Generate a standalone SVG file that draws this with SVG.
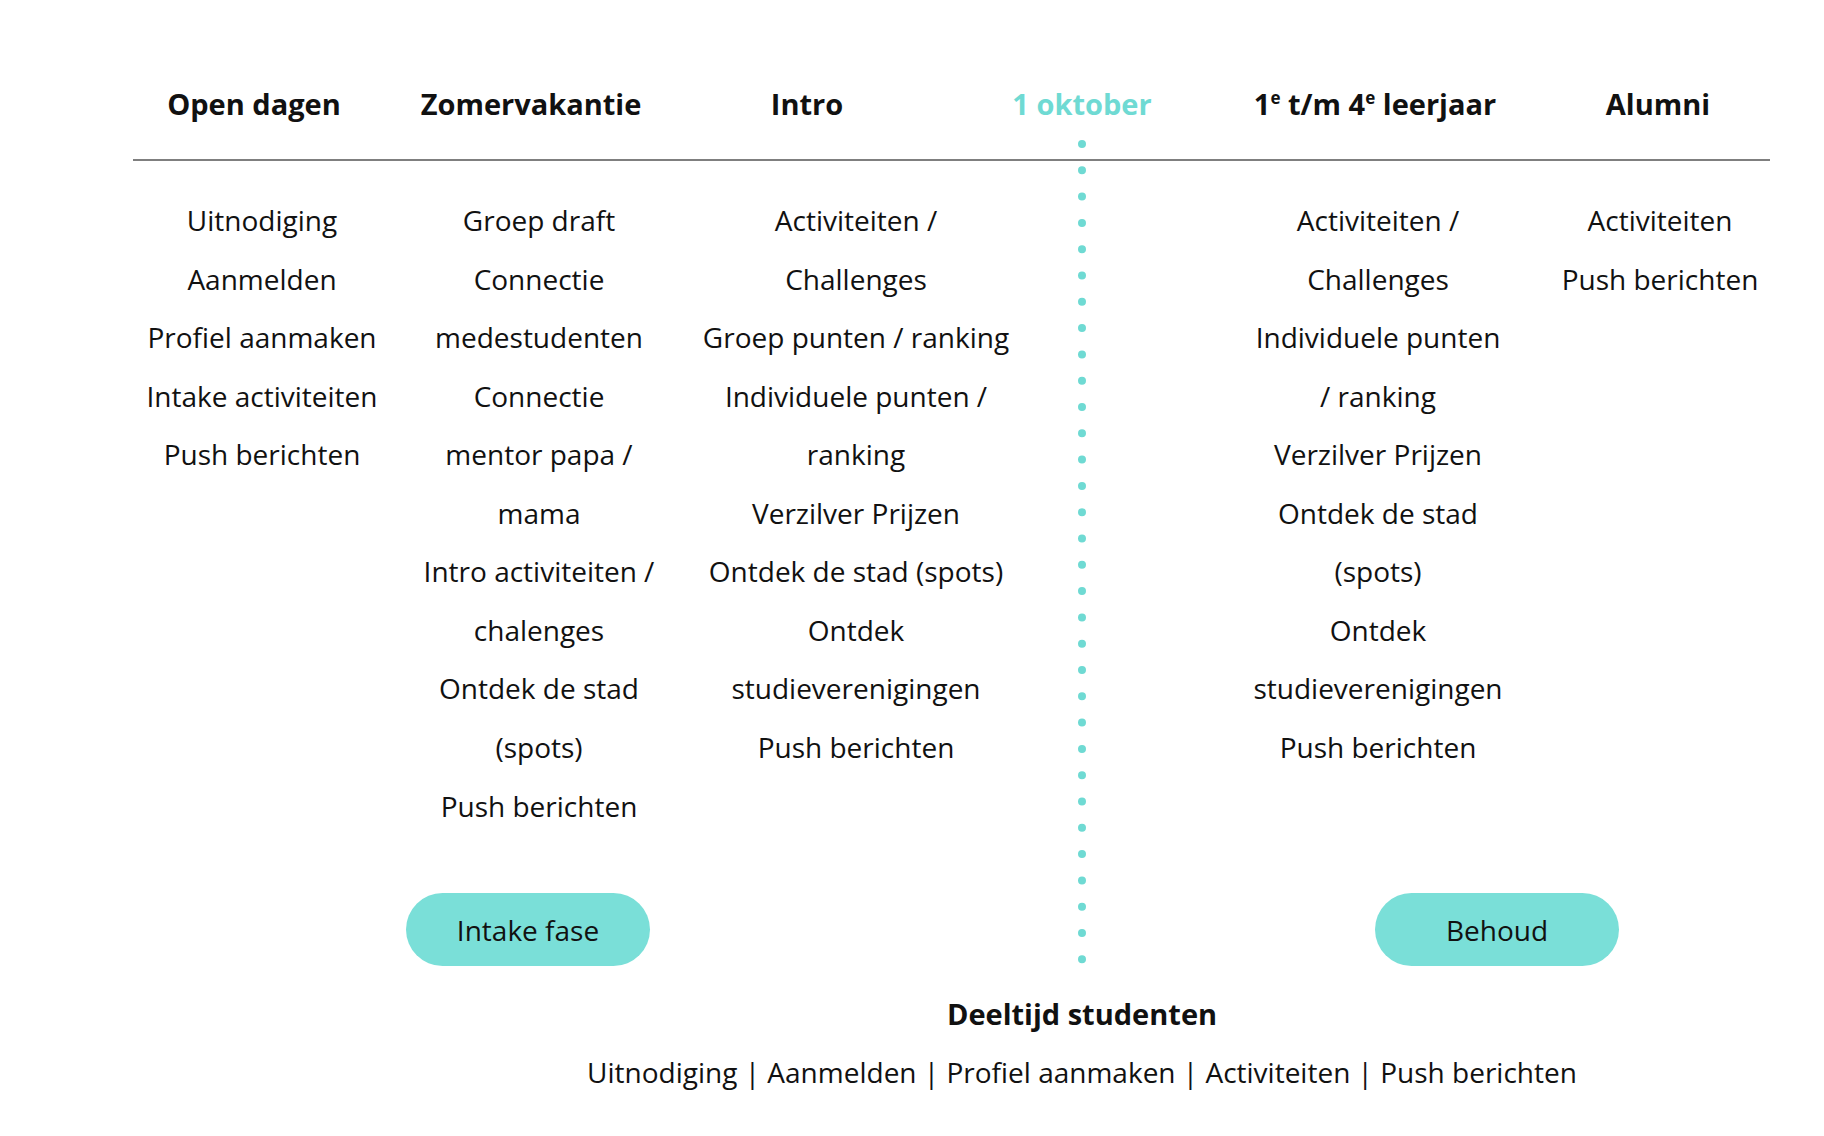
<svg xmlns="http://www.w3.org/2000/svg" width="1824" height="1136" viewBox="0 0 1824 1136">
<style>
text{font-family:"Open Sans","Noto Sans",sans-serif;text-anchor:middle;fill:#111}
.h{font-weight:700;font-size:29px}
.t{font-size:28px}
.c{fill:#6fdad3}
</style>
<rect width="1824" height="1136" fill="#fff"/>
<g id="headers">
<text class="h" x="254" y="115">Open dagen</text>
<text class="h" x="531" y="115">Zomervakantie</text>
<text class="h" x="807" y="115">Intro</text>
<text class="h c" x="1082" y="115" style="fill:#6fdad3">1 oktober</text>
<text class="h" x="1375" y="115">1<tspan font-size="17" dy="-11">e</tspan><tspan dy="11"> t/m 4</tspan><tspan font-size="17" dy="-11">e</tspan><tspan dy="11"> leerjaar</tspan></text>
<text class="h" x="1658" y="115">Alumni</text>
</g>
<g id="connectors">
<line x1="133" y1="160" x2="1770" y2="160" stroke="#555" stroke-width="1.5"/>
<line x1="1082" y1="144" x2="1082" y2="966" stroke="#6fdad3" stroke-width="8" stroke-linecap="round" stroke-dasharray="0 26.3"/>
</g>
<g id="col1" class="t">
<text class="t" x="262" y="231">Uitnodiging</text>
<text class="t" x="262" y="290">Aanmelden</text>
<text class="t" x="262" y="348">Profiel aanmaken</text>
<text class="t" x="262" y="407">Intake activiteiten</text>
<text class="t" x="262" y="465">Push berichten</text>
</g>
<g id="col2">
<text class="t" x="539" y="231">Groep draft</text>
<text class="t" x="539" y="290">Connectie</text>
<text class="t" x="539" y="348">medestudenten</text>
<text class="t" x="539" y="407">Connectie</text>
<text class="t" x="539" y="465">mentor papa /</text>
<text class="t" x="539" y="524">mama</text>
<text class="t" x="539" y="582">Intro activiteiten /</text>
<text class="t" x="539" y="641">chalenges</text>
<text class="t" x="539" y="699">Ontdek de stad</text>
<text class="t" x="539" y="758">(spots)</text>
<text class="t" x="539" y="817">Push berichten</text>
</g>
<g id="col3">
<text class="t" x="856" y="231">Activiteiten /</text>
<text class="t" x="856" y="290">Challenges</text>
<text class="t" x="856" y="348">Groep punten / ranking</text>
<text class="t" x="856" y="407">Individuele punten  /</text>
<text class="t" x="856" y="465">ranking</text>
<text class="t" x="856" y="524">Verzilver Prijzen</text>
<text class="t" x="856" y="582">Ontdek de stad (spots)</text>
<text class="t" x="856" y="641">Ontdek</text>
<text class="t" x="856" y="699">studieverenigingen</text>
<text class="t" x="856" y="758">Push berichten</text>
</g>
<g id="col4">
<text class="t" x="1378" y="231">Activiteiten /</text>
<text class="t" x="1378" y="290">Challenges</text>
<text class="t" x="1378" y="348">Individuele punten</text>
<text class="t" x="1378" y="407">/ ranking</text>
<text class="t" x="1378" y="465">Verzilver Prijzen</text>
<text class="t" x="1378" y="524">Ontdek de stad</text>
<text class="t" x="1378" y="582">(spots)</text>
<text class="t" x="1378" y="641">Ontdek</text>
<text class="t" x="1378" y="699">studieverenigingen</text>
<text class="t" x="1378" y="758">Push berichten</text>
</g>
<g id="col5">
<text class="t" x="1660" y="231">Activiteiten</text>
<text class="t" x="1660" y="290">Push berichten</text>
</g>
<g id="intake">
<rect x="406" y="893" width="244" height="73" rx="36.5" fill="#7adfd8"/>
<text class="t" x="528" y="941">Intake fase</text>
</g>
<g id="behoud">
<rect x="1375" y="893" width="244" height="73" rx="36.5" fill="#7adfd8"/>
<text class="t" x="1497" y="941">Behoud</text>
</g>
<g id="deeltijd">
<text class="h" x="1082" y="1025">Deeltijd studenten</text>
<text class="t" x="1082" y="1083">Uitnodiging | Aanmelden | Profiel aanmaken | Activiteiten | Push berichten</text>
</g>
</svg>
